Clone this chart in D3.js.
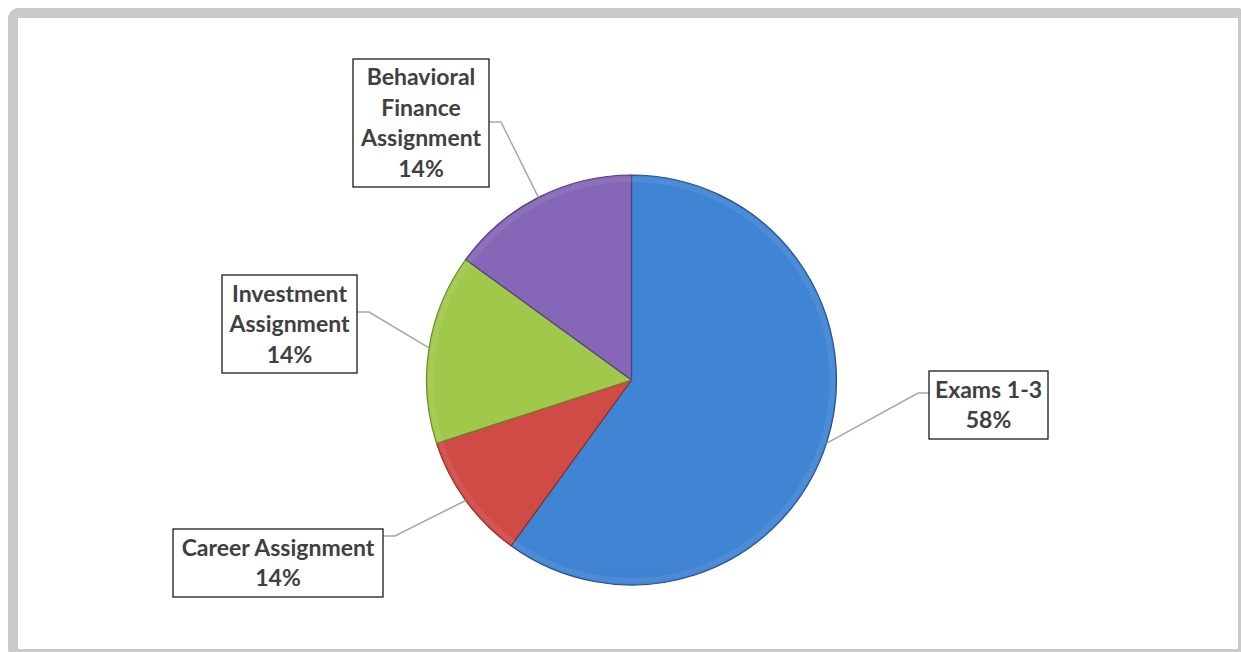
<!DOCTYPE html>
<html>
<head>
<meta charset="utf-8">
<script src="https://cdn.jsdelivr.net/npm/d3@7"></script>
<style>
  body { margin: 0; background: #ffffff; }
  svg { display: block; }
</style>
</head>
<body>
<div id="chart"></div>
<script>
// data
var categories = ["Exams 1-3", "Career Assignment", "Investment Assignment", "Behavioral Finance Assignment"];
var values = [60, 10, 15, 15];
var pctLabels = ["58%", "14%", "14%", "14%"];
// how each label is split into lines in the boxes
var labelLines = [["Exams 1-3"], ["Career Assignment"], ["Investment", "Assignment"], ["Behavioral", "Finance", "Assignment"]];

var colorsTop = ["#4084d4", "#d04a46", "#a0c84a", "#8666b6"];
var colorsBot = ["#3566ae", "#b63a36", "#8aae3a", "#6f529e"];

// label boxes: x, y, w, h, and where the leader meets the box
var boxes = [
  {x: 929, y: 371, w: 119, h: 68, side: "left", ly: 393},
  {x: 173, y: 529, w: 210, h: 68, side: "right", ly: 536},
  {x: 222, y: 275, w: 135, h: 98, side: "right", ly: 312},
  {x: 353, y: 59, w: 136, h: 128, side: "right", ly: 122}
];

var W = 1241, H = 652;
var cx = 631.5, cy = 380, R = 205;

var svg = d3.select("#chart")
    .append("svg")
    .attr("width", W)
    .attr("height", H);

// grey frame
svg.append("rect")
  .attr("x", 13).attr("y", 13)
  .attr("width", 1230).attr("height", 641)
  .attr("rx", 6)
  .attr("fill", "#ffffff")
  .attr("stroke", "#c9c9c9")
  .attr("stroke-width", 10);

var defs = svg.append("defs");
categories.forEach(function(c, i) {
  var g = defs.append("linearGradient")
    .attr("id", "grad" + i)
    .attr("gradientUnits", "userSpaceOnUse")
    .attr("x1", 0).attr("y1", cy - R)
    .attr("x2", 0).attr("y2", cy + R);
  g.append("stop").attr("offset", "0%").attr("stop-color", colorsTop[i]);
  g.append("stop").attr("offset", "100%").attr("stop-color", colorsBot[i]);
});

var pie = d3.pie().sort(null).value(function(d) { return d; });
var arcs = pie(values);

var arc = d3.arc().innerRadius(0).outerRadius(R);
var arcEdge = d3.arc().innerRadius(R - 7).outerRadius(R - 1.5);

var g = svg.append("g").attr("transform", "translate(" + cx + "," + cy + ")");

g.selectAll("path.slice")
  .data(arcs)
  .enter()
  .append("path")
  .attr("class", "slice")
  .attr("d", arc)
  .attr("fill", function(d, i) { return "url(#grad" + i + ")"; })
  .attr("stroke", function(d, i) { return d3.color(colorsBot[i]).darker(0.7); })
  .attr("stroke-width", 1.2)
  .attr("stroke-linejoin", "round");

// soft bevel highlight near the rim
g.selectAll("path.bevel")
  .data(arcs)
  .enter()
  .append("path")
  .attr("class", "bevel")
  .attr("d", arcEdge)
  .attr("fill", "#ffffff")
  .attr("opacity", 0.07);

// leader lines
arcs.forEach(function(d, i) {
  var a = (d.startAngle + d.endAngle) / 2;
  var px = cx + Math.sin(a) * R;
  var py = cy - Math.cos(a) * R;
  var b = boxes[i];
  var bx = b.side == "left" ? b.x : b.x + b.w;
  var kx = b.side == "left" ? bx - 11 : bx + 12;
  svg.append("polyline")
    .attr("points", px + "," + py + " " + kx + "," + b.ly + " " + bx + "," + b.ly)
    .attr("fill", "none")
    .attr("stroke", "#a6a6a6")
    .attr("stroke-width", 1.5);
});

// label boxes
boxes.forEach(function(b, i) {
  svg.append("rect")
    .attr("x", b.x).attr("y", b.y)
    .attr("width", b.w).attr("height", b.h)
    .attr("fill", "#ffffff")
    .attr("stroke", "#1a1a1a")
    .attr("stroke-width", 1.3);
  var lines = labelLines[i].concat([pctLabels[i]]);
  var lh = 30.5;
  var y0 = b.y + b.h / 2 - (lines.length - 1) * lh / 2;
  var t = svg.append("text")
    .attr("text-anchor", "middle")
    .attr("font-family", "Lato, 'Open Sans', sans-serif")
    .attr("font-weight", "bold")
    .attr("font-size", 23)
    .attr("fill", "#404040");
  lines.forEach(function(s, k) {
    t.append("tspan")
      .attr("x", b.x + b.w / 2)
      .attr("y", y0 + k * lh)
      .attr("dy", "0.35em")
      .text(s);
  });
});
</script>
</body>
</html>
